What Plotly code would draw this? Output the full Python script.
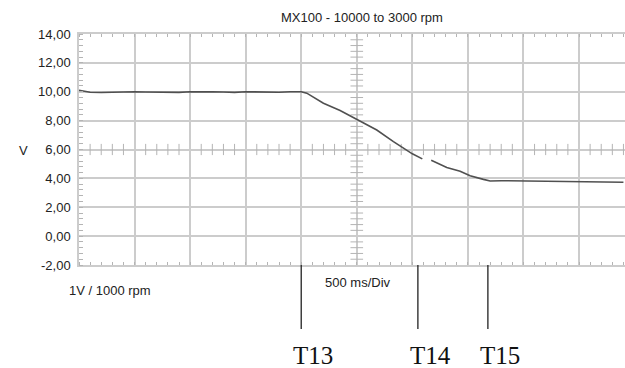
import numpy as np
import plotly.graph_objects as go

# ---- data (time in ms, voltage in V) ----
time_ms = [0, 100, 200, 300, 400, 500, 600, 700, 800, 900, 1000, 1100, 1200, 1300,
           1400, 1500, 1600, 1700, 1800, 1900, 2000, 2050, 2100, 2200, 2350, 2500,
           2680, 2830, 3000, 3090, 3130, 3170, 3310, 3430, 3520, 3640, 3700, 3800,
           3950, 4100, 4240, 4400, 4540, 4700, 4900]
volts = [10.1, 9.97, 9.95, 9.98, 9.96, 10.0, 9.98, 9.97, 9.99, 9.96, 10.0, 9.97,
         9.99, 9.98, 9.96, 10.0, 9.98, 9.99, 9.97, 10.0, 10.0, 9.9, 9.65, 9.2, 8.7,
         8.1, 7.35, 6.55, 5.7, 5.35, None, 5.25, 4.75, 4.5, 4.18, 3.93, 3.82, 3.84,
         3.82, 3.8, 3.77, 3.78, 3.73, 3.74, 3.73]

y_ticks = [-2, 0, 2, 4, 6, 8, 10, 12, 14]
y_ticktext = ["-2,00", "0,00", "2,00", "4,00", "6,00", "8,00", "10,00", "12,00", "14,00"]
x_ticks = [0, 500, 1000, 1500, 2000, 2500, 3000, 3500, 4000, 4500]

marker_names = ["T13", "T14", "T15"]
marker_times = [2000, 3050, 3680]

title = "MX100 - 10000 to 3000 rpm"
X_MAX = 4914

GRID = "#cccccc"
TICK = "#b4b4b4"
FONT = "Liberation Sans, Arial, sans-serif"

fig = go.Figure()

# centre crosshair minor ticks
hx = [t for t in np.arange(0, X_MAX, 100) if t % 500 != 0]
fig.add_trace(go.Scatter(x=hx, y=[6] * len(hx), mode="markers", hoverinfo="skip",
                         marker=dict(symbol="line-ns", size=8,
                                     line=dict(color=TICK, width=1))))
vy = [v for v in np.arange(-2, 14.001, 0.4) if abs(v / 2 - round(v / 2)) > 1e-6]
fig.add_trace(go.Scatter(x=[2500] * len(vy), y=vy, mode="markers", hoverinfo="skip",
                         marker=dict(symbol="line-ew", size=9,
                                     line=dict(color=TICK, width=1))))

fig.add_trace(go.Scatter(x=time_ms, y=volts, mode="lines", connectgaps=False,
                         line=dict(color="#505050", width=1.6), hoverinfo="skip"))

fig.update_layout(
    width=625, height=368,
    margin=dict(l=79, r=0, t=34, b=103),
    paper_bgcolor="white", plot_bgcolor="white",
    showlegend=False,
    font=dict(family=FONT, size=13, color="#222222"),
    xaxis=dict(range=[0, X_MAX], tickvals=x_ticks, showticklabels=False,
               showgrid=True, gridcolor=GRID, gridwidth=1.5, zeroline=False,
               showline=True, linecolor=GRID, linewidth=1.5, mirror="ticks",
               ticks="", minor=dict(dtick=100, tick0=0, ticks="inside", ticklen=3,
                                    tickcolor=TICK, showgrid=False)),
    yaxis=dict(range=[-2, 14], tickvals=y_ticks, ticktext=y_ticktext,
               showgrid=True, gridcolor=GRID, gridwidth=1.5, zeroline=False,
               showline=True, linecolor=GRID, linewidth=1.5, ticks="",
               ticklabelstandoff=4,
               tickfont=dict(family=FONT, size=13, color="#222222"),
               minor=dict(dtick=0.4, tick0=-2, ticks="inside", ticklen=4,
                          tickcolor=TICK, showgrid=False)),
)

anns = [
    dict(text=title, x=(362 - 79) / 546, y=(265 - 18) / 231, xanchor="center",
         yanchor="middle", font=dict(size=13)),
    dict(text="V", x=(23 - 79) / 546, y=(265 - 150) / 231, xanchor="center",
         yanchor="middle", font=dict(size=13)),
    dict(text="1V / 1000 rpm", x=(67 - 79) / 546, y=(265 - 290) / 231,
         xanchor="left", yanchor="middle", font=dict(size=13)),
    dict(text="500 ms/Div", x=(323 - 79) / 546, y=(265 - 282) / 231,
         xanchor="left", yanchor="middle", font=dict(size=13)),
]
for a in anns:
    a.update(xref="paper", yref="paper", showarrow=False)
fig.update_layout(annotations=anns)

for name, t in zip(marker_names, marker_times):
    fig.add_shape(type="line", xref="x", yref="paper", x0=t, x1=t, y0=0,
                  y1=(265 - 329) / 231, line=dict(color="#222222", width=1.3))
    fig.add_annotation(text=name, x=t, xref="x", y=(265 - 355) / 231, yref="paper",
                       xanchor="left", yanchor="middle", xshift=-10, showarrow=False,
                       font=dict(family="Liberation Serif, Times New Roman, serif",
                                 size=25, color="#111111"))

fig.write_html("out.html")
